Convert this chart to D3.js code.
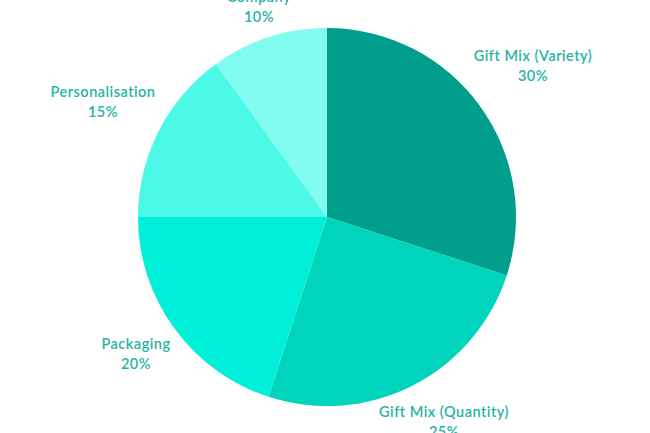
<!DOCTYPE html><html><head><script src="https://cdn.jsdelivr.net/npm/d3@7"></script>
<style>body{margin:0;background:#fff}</style></head><body><svg width="650" height="433"></svg>
<script>
const categories=["Gift Mix (Variety)","Gift Mix (Quantity)","Packaging","Personalisation","Company"];
const values=[30,25,20,15,10];
const colors=["#009e8b","#00d4bd","#00efd8","#4cf9e6","#80fcf0"];
const labelPos=[[533,56],[444,412],[136,344],[103,92],[259,-3]];
const svg=d3.select("svg");
const g=svg.append("g").attr("transform","translate(327,217)");
const pie=d3.pie().sort(null).value(d=>d)(values);
const arc=d3.arc().innerRadius(0).outerRadius(189);
g.selectAll("path").data(pie).join("path").attr("d",arc).attr("fill",(d,i)=>colors[i]);
const t=svg.selectAll("text").data(categories).join("text")
 .attr("text-anchor","middle").attr("font-family","Lato, sans-serif").attr("font-size",14.5).attr("font-weight",600).attr("letter-spacing",0.5).attr("fill","#27b3a3");
t.append("tspan").attr("x",(d,i)=>labelPos[i][0]).attr("y",(d,i)=>labelPos[i][1]+5).text(d=>d);
t.append("tspan").attr("x",(d,i)=>labelPos[i][0]).attr("y",(d,i)=>labelPos[i][1]+25).text((d,i)=>values[i]+"%");
</script></body></html>
